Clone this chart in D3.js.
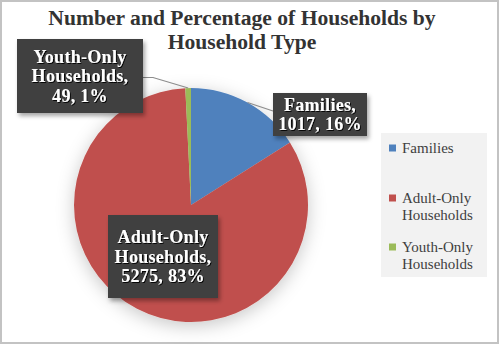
<!DOCTYPE html>
<html><head><meta charset="utf-8">
<script src="https://cdn.jsdelivr.net/npm/d3@7"></script>
<style>
html,body{margin:0;padding:0;background:#fff;}
svg{display:block;}
</style></head>
<body>
<script>
const categories = ["Families", "Adult-Only Households", "Youth-Only Households"];
const values = [1017, 5275, 49];
const percents = ["16%", "83%", "1%"];
const legendLines = [["Families"], ["Adult-Only", "Households"], ["Youth-Only", "Households"]];
const labelLines = [["Families,", "1017, 16%"], ["Adult-Only", "Households,", "5275, 83%"], ["Youth-Only", "Households,", "49, 1%"]];
const colors = ["#4f81bd", "#c0504d", "#9bbb59"];
const titleLines = ["Number and Percentage of Households by", "Household Type"];

const W = 500, H = 345;
const svg = d3.select("body").append("svg").attr("width", W).attr("height", H);
const defs = svg.append("defs");
const f1 = defs.append("filter").attr("id", "pieShadow").attr("x", "-30%").attr("y", "-30%").attr("width", "160%").attr("height", "160%");
f1.append("feDropShadow").attr("dx", 0).attr("dy", 4).attr("stdDeviation", 9).attr("flood-color", "#000").attr("flood-opacity", 0.22);
const f2 = defs.append("filter").attr("id", "boxShadow").attr("x", "-20%").attr("y", "-20%").attr("width", "150%").attr("height", "150%");
f2.append("feDropShadow").attr("dx", 2).attr("dy", 3).attr("stdDeviation", 2).attr("flood-color", "#000").attr("flood-opacity", 0.35);
const f3 = defs.append("filter").attr("id", "txtShadow").attr("x", "-10%").attr("y", "-20%").attr("width", "130%").attr("height", "150%");
f3.append("feDropShadow").attr("dx", 1).attr("dy", 1).attr("stdDeviation", 0.6).attr("flood-color", "#000").attr("flood-opacity", 0.9);

// background + border
svg.append("rect").attr("x", 1).attr("y", 1).attr("width", W - 3).attr("height", H - 3)
  .attr("fill", "#fff").attr("stroke", "#c3c3c3").attr("stroke-width", 2);

// title
svg.append("g").selectAll("text").data(titleLines).join("text")
  .attr("x", 242).attr("y", (d, i) => 25 + i * 24)
  .attr("text-anchor", "middle")
  .attr("font-family", "Liberation Serif, serif").attr("font-weight", "bold")
  .attr("font-size", 21.6).attr("fill", "#333")
  .text(d => d);

// pie
const cx = 191, cy = 205, r = 117;
const pie = d3.pie().sort(null).value(d => d);
const arcs = pie(values);
const arc = d3.arc().innerRadius(0).outerRadius(r);
const pg = svg.append("g").attr("transform", `translate(${cx},${cy})`);
pg.append("g").attr("filter", "url(#pieShadow)").selectAll("path").data(arcs).join("path")
  .attr("d", arc).attr("fill", (d, i) => colors[i]);

// leader lines
const leaders = [
  {i: 0, pts: [[273, 111]]},
  {i: 2, pts: [[153, 77.5], [143, 77.5]]}
];
leaders.forEach(L => {
  const a = arcs[L.i];
  const m = (a.startAngle + a.endAngle) / 2;
  const p0 = [cx + r * Math.sin(m), cy - r * Math.cos(m)];
  svg.append("path").attr("d", d3.line()([p0, ...L.pts]))
    .attr("fill", "none").attr("stroke", "#8c8c8c").attr("stroke-width", 1.2);
});

// label boxes
const boxes = [
  {i: 0, x: 273, y: 93, w: 94, h: 43},
  {i: 1, x: 108, y: 215, w: 110, h: 83},
  {i: 2, x: 17, y: 39, w: 126, h: 74}
];
boxes.forEach(b => {
  const g = svg.append("g");
  g.append("rect").attr("x", b.x).attr("y", b.y).attr("width", b.w).attr("height", b.h)
    .attr("fill", "#404040").attr("filter", "url(#boxShadow)");
  const lines = labelLines[b.i];
  const lh = 19.5;
  const startY = b.y + b.h / 2 - (lines.length - 1) * lh / 2 + 6;
  g.append("g").attr("filter", "url(#txtShadow)").selectAll("text").data(lines).join("text")
    .attr("x", b.x + b.w / 2).attr("y", (d, k) => startY + k * lh)
    .attr("text-anchor", "middle")
    .attr("font-family", "Liberation Serif, serif").attr("font-weight", "bold")
    .attr("font-size", 18).attr("letter-spacing", 0.3).attr("fill", "#fff")
    .text(d => d);
});

// legend
const lg = svg.append("g");
lg.append("rect").attr("x", 381).attr("y", 133).attr("width", 106).attr("height", 144).attr("fill", "#f2f2f2");
const itemY = [148, 198, 247];
legendLines.forEach((lines, i) => {
  lg.append("rect").attr("x", 389).attr("y", itemY[i] - 3.5).attr("width", 7).attr("height", 7)
    .attr("fill", colors[i]);
  lg.append("g").selectAll("text").data(lines).join("text")
    .attr("x", 402).attr("y", (d, k) => itemY[i] + 5 + k * 17)
    .attr("font-family", "Liberation Serif, serif").attr("font-size", 15).attr("fill", "#404040")
    .text(d => d);
});
</script>
</body></html>
